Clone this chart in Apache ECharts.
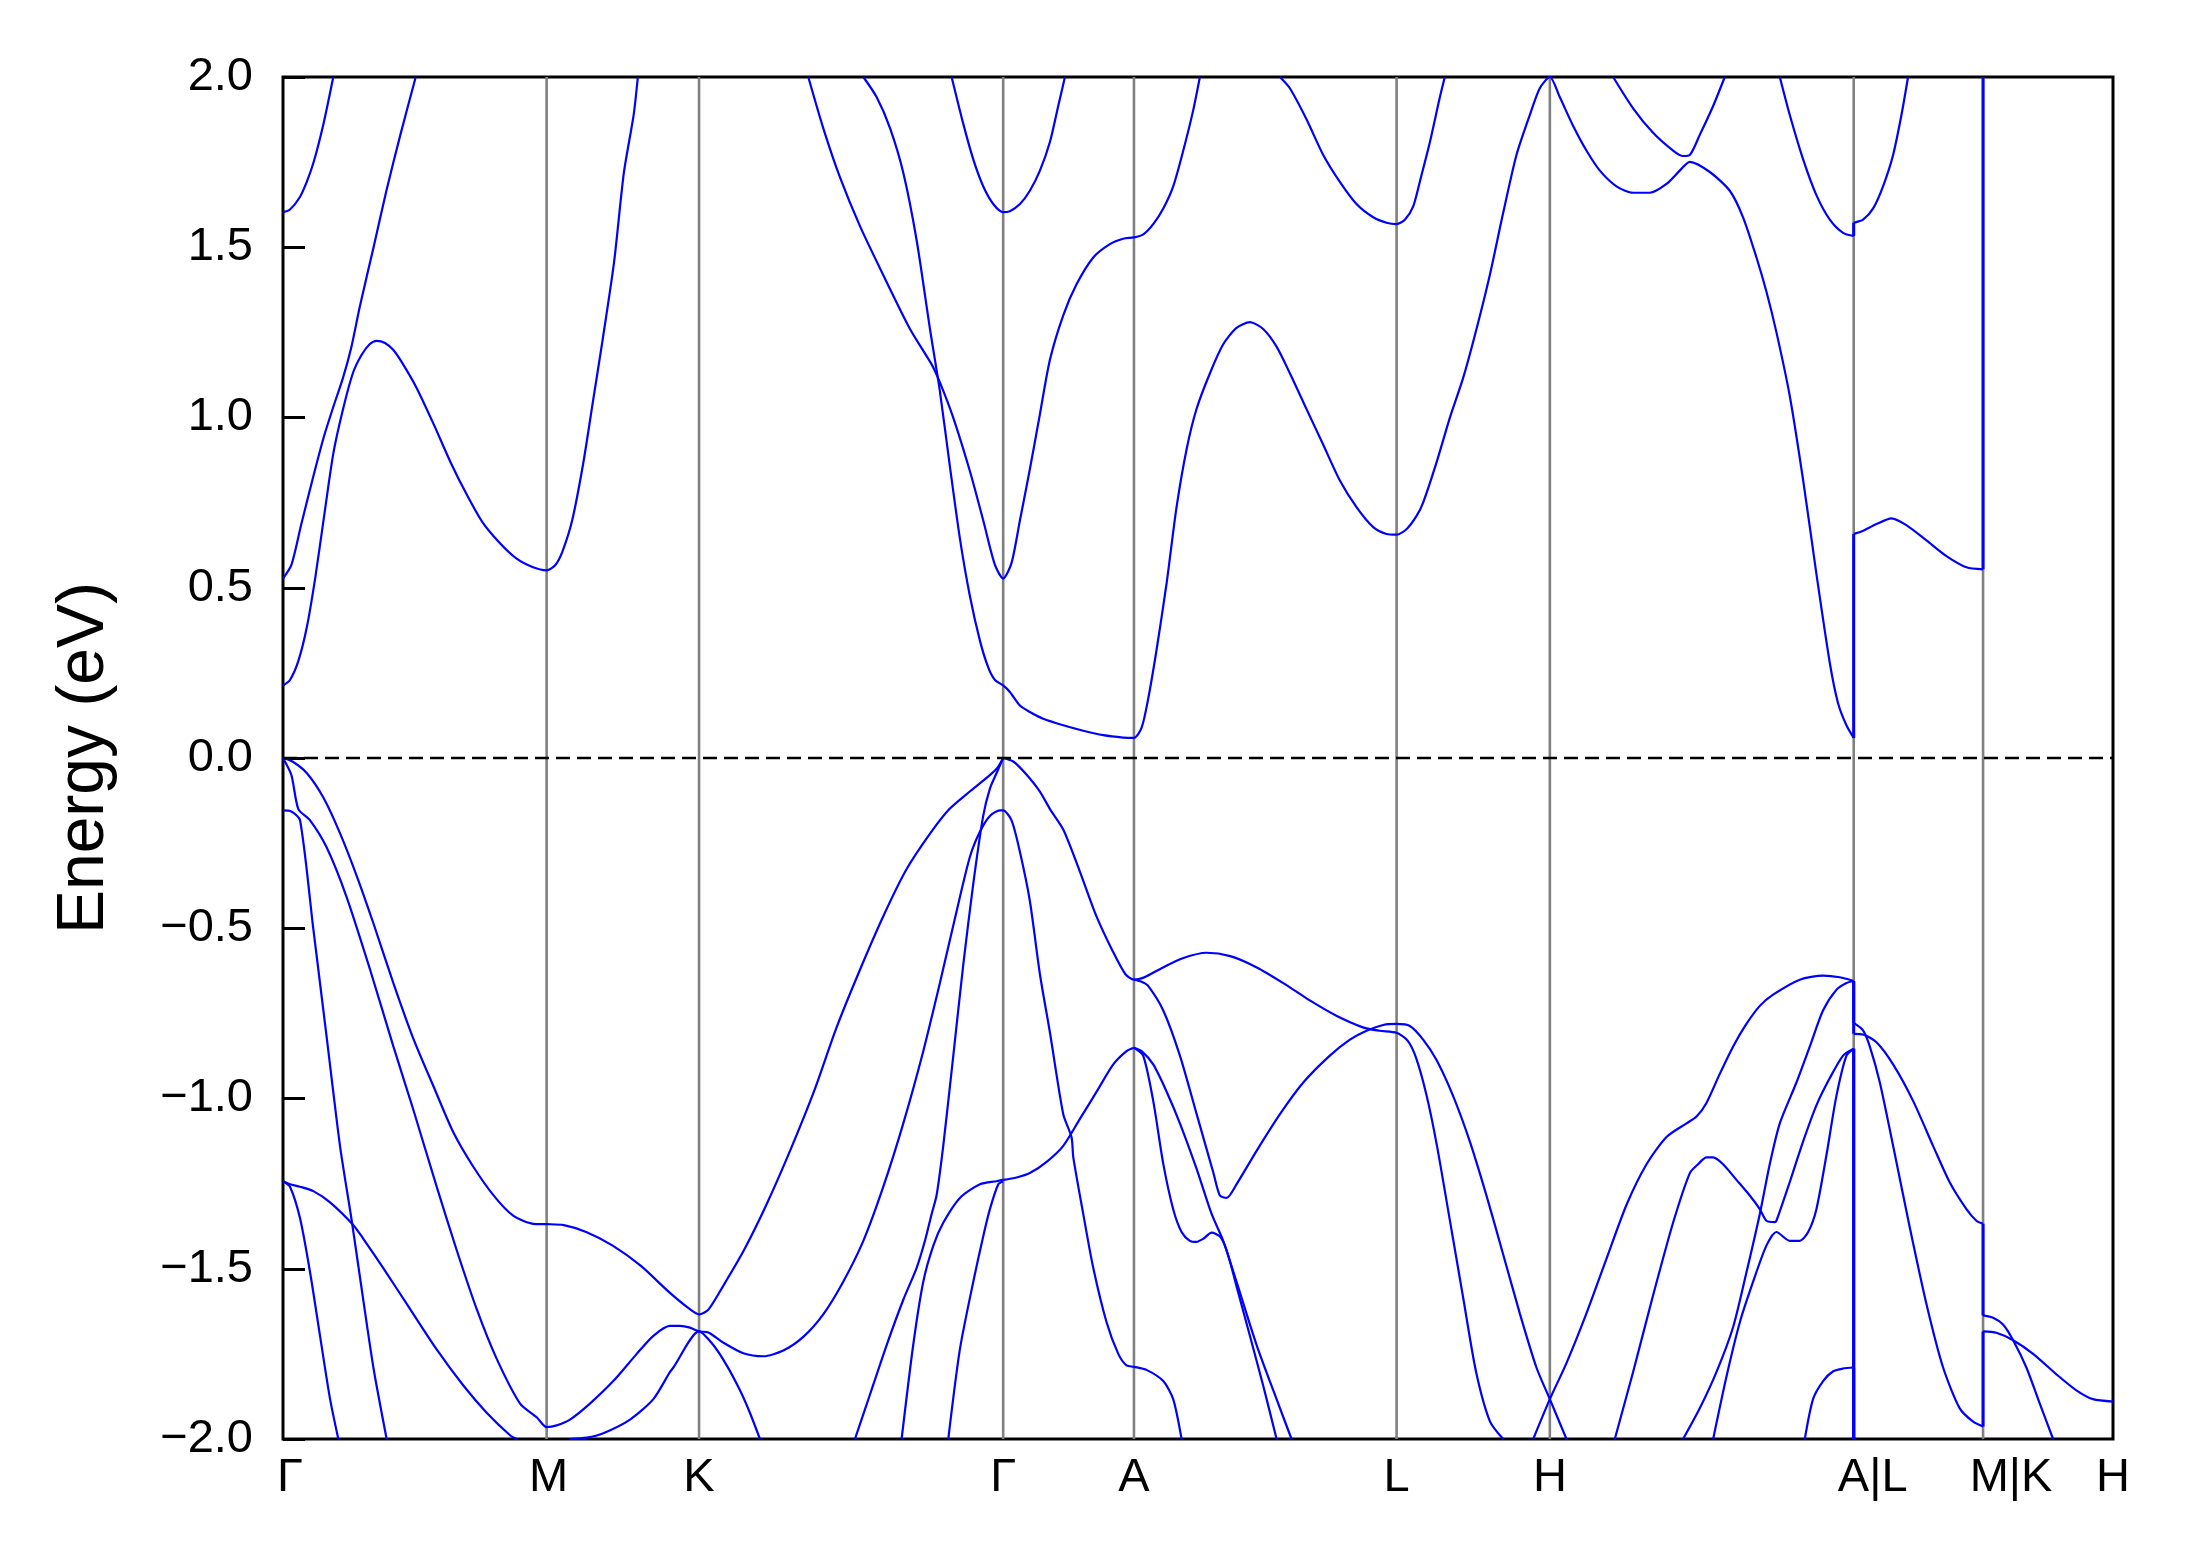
<!DOCTYPE html>
<html><head><meta charset="utf-8">
<script src="https://cdn.jsdelivr.net/npm/echarts@6/dist/echarts.min.js"></script>
<style>html,body{margin:0;padding:0;background:#fff}#c{width:2191px;height:1567px}</style>
</head><body><div id="c"></div>
<script>
// k-path positions (path distance units) and labels
const kPos = [0, 0.1887, 0.2978, 0.5155, 0.6091, 0.7971, 0.9068, 1.1243, 1.2169, 1.3099];
const kLabels = ['Γ','M','K','Γ','A','L','H','A|L','M|K','H'];
const yRange = [-2, 2];
const yStep = 0.5;

// bands: [k, energy(eV)]
const bandA = [[0,1.603],[0.005,1.611],[0.012,1.647],[0.017,1.692],[0.022,1.751],[0.029,1.863],[0.036,2.0]];
const bandB = [[0,0.527],[0.006,0.567],[0.013,0.685],[0.021,0.816],[0.029,0.940],[0.036,1.031],[0.043,1.117],[0.049,1.208],[0.055,1.326],[0.065,1.503],[0.074,1.666],[0.084,1.830],[0.095,2.0]];
const bandC = [[0,0.213],[0.005,0.229],[0.011,0.285],[0.017,0.383],[0.023,0.527],[0.029,0.698],[0.036,0.894],[0.043,1.025],[0.050,1.130],[0.056,1.182],[0.062,1.215],[0.067,1.225],[0.073,1.219],[0.079,1.198],[0.086,1.156],[0.096,1.084],[0.108,0.979],[0.120,0.868],[0.132,0.770],[0.143,0.691],[0.155,0.632],[0.167,0.586],[0.179,0.560],[0.1887,0.551],[0.195,0.567],[0.200,0.606],[0.207,0.698],[0.215,0.868],[0.222,1.051],[0.229,1.234],[0.237,1.457],[0.244,1.719],[0.251,1.889],[0.254,2.0]];
const bandD = [[0,0],[0.007,-0.011],[0.017,-0.044],[0.029,-0.117],[0.041,-0.223],[0.053,-0.349],[0.065,-0.489],[0.079,-0.661],[0.093,-0.821],[0.108,-0.967],[0.122,-1.100],[0.136,-1.199],[0.151,-1.286],[0.165,-1.345],[0.179,-1.368],[0.1887,-1.369],[0.201,-1.372],[0.217,-1.392],[0.236,-1.432],[0.256,-1.491],[0.277,-1.571],[0.291,-1.618],[0.2978,-1.634],[0.3045,-1.620],[0.315,-1.551],[0.330,-1.445],[0.346,-1.312],[0.363,-1.153],[0.380,-0.980],[0.396,-0.794],[0.413,-0.622],[0.430,-0.462],[0.446,-0.329],[0.463,-0.223],[0.477,-0.150],[0.492,-0.097],[0.504,-0.057],[0.511,-0.031],[0.5155,0]];
const bandG = [[0.5155,0],[0.523,-0.011],[0.532,-0.048],[0.542,-0.100],[0.549,-0.150],[0.5585,-0.210],[0.570,-0.329],[0.582,-0.462],[0.594,-0.568],[0.603,-0.635],[0.6091,-0.651],[0.616,-0.645],[0.630,-0.615],[0.644,-0.588],[0.661,-0.572],[0.678,-0.582],[0.697,-0.615],[0.716,-0.661],[0.735,-0.712],[0.754,-0.757],[0.773,-0.791],[0.785,-0.801],[0.7971,-0.807],[0.805,-0.830],[0.811,-0.880],[0.8185,-0.990],[0.826,-1.139],[0.835,-1.352],[0.845,-1.591],[0.854,-1.803],[0.864,-1.949],[0.8734,-2.0]];
const bandV = [[0.6091,-0.651],[0.6145,-0.657],[0.619,-0.668],[0.630,-0.741],[0.642,-0.874],[0.654,-1.046],[0.666,-1.219],[0.6706,-1.285],[0.6754,-1.292],[0.6825,-1.252],[0.697,-1.153],[0.7136,-1.046],[0.7303,-0.953],[0.7493,-0.874],[0.7637,-0.827],[0.7756,-0.801],[0.7875,-0.784],[0.7971,-0.781],[0.8066,-0.787],[0.8161,-0.827],[0.8257,-0.887],[0.8376,-0.993],[0.8495,-1.126],[0.8615,-1.286],[0.8734,-1.458],[0.8853,-1.631],[0.8972,-1.790],[0.9068,-1.883],[0.9187,-2.0]];
const band2 = [[0,0],[0.006,-0.050],[0.011,-0.150],[0.0194,-0.183],[0.0313,-0.263],[0.0456,-0.409],[0.0623,-0.621],[0.079,-0.847],[0.0933,-1.033],[0.110,-1.259],[0.1243,-1.445],[0.1386,-1.618],[0.1529,-1.764],[0.1697,-1.896],[0.1816,-1.936],[0.1887,-1.965],[0.1959,-1.960],[0.2054,-1.943],[0.2197,-1.896],[0.2364,-1.830],[0.2532,-1.750],[0.2651,-1.697],[0.277,-1.668],[0.2842,-1.668],[0.2913,-1.673],[0.2978,-1.684],[0.3045,-1.687],[0.3152,-1.717],[0.3295,-1.748],[0.3438,-1.757],[0.3581,-1.740],[0.3724,-1.700],[0.3867,-1.634],[0.401,-1.538],[0.4154,-1.418],[0.4297,-1.259],[0.444,-1.073],[0.4583,-0.861],[0.4702,-0.661],[0.4822,-0.449],[0.4917,-0.290],[0.4989,-0.216],[0.506,-0.170],[0.5132,-0.154],[0.5155,-0.154],[0.5215,-0.183],[0.5275,-0.276],[0.5346,-0.420],[0.5418,-0.635],[0.549,-0.807],[0.5585,-1.046],[0.5644,-1.113],[0.5657,-1.173],[0.5728,-1.339],[0.580,-1.498],[0.5895,-1.657],[0.5979,-1.750],[0.6038,-1.784],[0.6091,-1.788],[0.6181,-1.797],[0.6301,-1.830],[0.6372,-1.883],[0.6432,-2.0]];
const band7c = [[0.2054,-2.0],[0.2174,-1.996],[0.2293,-1.983],[0.2484,-1.943],[0.2651,-1.883],[0.277,-1.803],[0.2794,-1.790],[0.2978,-1.684],[0.308,-1.724],[0.3175,-1.783],[0.3271,-1.857],[0.3342,-1.923],[0.3414,-2.0]];
const band3 = [[0,-0.154],[0.006,-0.157],[0.0122,-0.183],[0.0217,-0.502],[0.0313,-0.821],[0.0408,-1.139],[0.0492,-1.359],[0.0551,-1.525],[0.0647,-1.790],[0.0742,-2.0]];
const band4 = [[0,-1.243],[0.005,-1.252],[0.0122,-1.259],[0.0217,-1.272],[0.0337,-1.305],[0.0504,-1.372],[0.0575,-1.412],[0.0718,-1.498],[0.0909,-1.618],[0.110,-1.737],[0.1291,-1.843],[0.1458,-1.923],[0.1625,-1.989],[0.1673,-2.0]];
const band5 = [[0,-1.243],[0.005,-1.259],[0.0122,-1.352],[0.0194,-1.511],[0.0265,-1.697],[0.0337,-1.883],[0.0396,-2.0]];
const bandF1 = [[0.4094,-2.0],[0.4201,-1.870],[0.4321,-1.724],[0.444,-1.591],[0.4535,-1.498],[0.4595,-1.418],[0.4643,-1.339],[0.4678,-1.285],[0.4726,-1.139],[0.4798,-0.874],[0.4869,-0.608],[0.4941,-0.369],[0.5012,-0.170],[0.506,-0.090],[0.5108,-0.044],[0.5155,0]];
const bandF2 = [[0.4428,-2.0],[0.4511,-1.724],[0.4583,-1.538],[0.4655,-1.432],[0.4726,-1.365],[0.4845,-1.292],[0.4989,-1.252],[0.5108,-1.243],[0.5155,-1.239]];
const bandF3 = [[0.4762,-2.0],[0.4845,-1.737],[0.4941,-1.538],[0.5012,-1.405],[0.506,-1.325],[0.512,-1.252],[0.5155,-1.243]];
const bandH = [[0.5155,-1.239],[0.5251,-1.232],[0.5346,-1.219],[0.5466,-1.186],[0.5585,-1.139],[0.5704,-1.060],[0.5824,-0.980],[0.5943,-0.900],[0.6038,-0.861],[0.6091,-0.851]];
const bandI1 = [[0.6091,-0.851],[0.6157,-0.874],[0.6229,-1.007],[0.6301,-1.192],[0.6372,-1.325],[0.6432,-1.392],[0.6491,-1.418],[0.6539,-1.421],[0.6587,-1.412],[0.6647,-1.394],[0.6706,-1.405],[0.6754,-1.445],[0.6825,-1.551],[0.6921,-1.697],[0.7016,-1.843],[0.7112,-2.0]];
const bandI2 = [[0.6091,-0.851],[0.6146,-0.861],[0.6229,-0.900],[0.6325,-0.980],[0.642,-1.073],[0.6539,-1.206],[0.6647,-1.339],[0.673,-1.418],[0.6825,-1.538],[0.6969,-1.724],[0.7112,-1.883],[0.7219,-2.0]];
const bandL = [[0.376,2.0],[0.3867,1.850],[0.3987,1.705],[0.413,1.562],[0.4297,1.418],[0.4488,1.260],[0.4643,1.156],[0.4702,1.103],[0.4798,0.999],[0.4917,0.842],[0.5012,0.698],[0.5096,0.567],[0.5155,0.527],[0.5215,0.573],[0.5275,0.698],[0.5346,0.848],[0.5418,1.010],[0.549,1.170],[0.5585,1.300],[0.568,1.391],[0.580,1.470],[0.5919,1.509],[0.6014,1.525],[0.6091,1.529],[0.6158,1.538],[0.6229,1.568],[0.6301,1.614],[0.6372,1.679],[0.6444,1.784],[0.6515,1.902],[0.6563,2.0]];
const bandM = [[0.4154,2.0],[0.4249,1.941],[0.4345,1.850],[0.444,1.719],[0.4535,1.522],[0.4631,1.260],[0.4702,1.077],[0.4774,0.855],[0.4845,0.645],[0.4917,0.475],[0.4989,0.344],[0.5048,0.266],[0.5096,0.229],[0.5155,0.213],[0.5203,0.194],[0.5275,0.154],[0.5346,0.135],[0.5442,0.115],[0.5585,0.096],[0.5728,0.080],[0.5871,0.067],[0.6014,0.060],[0.6091,0.059],[0.6146,0.089],[0.6193,0.174],[0.6253,0.318],[0.6325,0.514],[0.6396,0.737],[0.6468,0.907],[0.6539,1.025],[0.6635,1.130],[0.673,1.215],[0.6825,1.263],[0.6921,1.280],[0.7016,1.260],[0.7112,1.208],[0.7207,1.130],[0.7326,1.025],[0.7446,0.920],[0.7565,0.815],[0.7684,0.737],[0.7804,0.678],[0.7899,0.658],[0.7971,0.656],[0.8042,0.672],[0.8114,0.711],[0.8161,0.750],[0.8257,0.868],[0.8352,0.999],[0.8448,1.117],[0.8543,1.260],[0.8638,1.418],[0.8734,1.601],[0.8829,1.771],[0.8925,1.889],[0.8996,1.967],[0.9068,2.0],[0.9139,1.941],[0.9235,1.856],[0.933,1.784],[0.9426,1.725],[0.9545,1.679],[0.9664,1.660],[0.9784,1.660],[0.9903,1.686],[0.9998,1.725],[1.007,1.751],[1.0213,1.721],[1.0356,1.666],[1.0451,1.588],[1.0547,1.470],[1.0618,1.370],[1.069,1.250],[1.0785,1.064],[1.0881,0.816],[1.0976,0.541],[1.1072,0.279],[1.1131,0.161],[1.1191,0.096],[1.1243,0.059],[1.1243,0.658],[1.1298,0.665],[1.1406,0.687],[1.1513,0.704],[1.162,0.684],[1.1764,0.639],[1.1907,0.593],[1.205,0.560],[1.2169,0.554],[1.2169,2.0]];
const bandN = [[0.4786,2.0],[0.4869,1.863],[0.4941,1.758],[0.5012,1.679],[0.5084,1.627],[0.5155,1.603],[0.5203,1.606],[0.5275,1.627],[0.5346,1.666],[0.5418,1.725],[0.549,1.810],[0.5549,1.915],[0.5597,2.0]];
const bandR = [[0.7136,2.0],[0.7207,1.967],[0.7326,1.876],[0.7446,1.771],[0.7565,1.692],[0.7684,1.627],[0.7804,1.588],[0.7899,1.572],[0.7971,1.568],[0.803,1.581],[0.809,1.620],[0.8145,1.705],[0.821,1.810],[0.8281,1.941],[0.8316,2.0]];
const bandUp = [[0.9521,2.0],[0.9664,1.908],[0.9807,1.836],[0.995,1.784],[1.0022,1.768],[1.007,1.771],[1.0141,1.830],[1.0237,1.915],[1.032,2.0]];
const bandVt = [[1.0714,2.0],[1.0785,1.889],[1.0881,1.758],[1.0976,1.653],[1.1072,1.581],[1.1167,1.542],[1.1243,1.533],[1.1243,1.572],[1.131,1.581],[1.1382,1.614],[1.1453,1.679],[1.1525,1.771],[1.1585,1.889],[1.1632,2.0]];
const bandX = [[0.8949,-2.0],[0.9068,-1.883],[0.9187,-1.777],[0.933,-1.631],[0.9473,-1.471],[0.9617,-1.312],[0.976,-1.193],[0.9903,-1.113],[1.0046,-1.073],[1.0118,-1.053],[1.0189,-1.013],[1.0285,-0.927],[1.038,-0.847],[1.0475,-0.781],[1.0571,-0.728],[1.0666,-0.695],[1.0857,-0.651],[1.1024,-0.639],[1.1143,-0.644],[1.1243,-0.655],[1.1243,-0.778],[1.131,-0.800],[1.1358,-0.847],[1.143,-0.953],[1.1525,-1.139],[1.1644,-1.378],[1.1764,-1.604],[1.1883,-1.790],[1.2002,-1.910],[1.2098,-1.949],[1.2169,-1.963],[1.2169,-1.684],[1.2264,-1.688],[1.2384,-1.710],[1.2527,-1.750],[1.2694,-1.810],[1.2837,-1.857],[1.2956,-1.883],[1.3099,-1.890]];
const bandZ1 = [[1.0022,-2.0],[1.0141,-1.910],[1.0261,-1.803],[1.038,-1.671],[1.0475,-1.511],[1.0571,-1.339],[1.0642,-1.193],[1.0714,-1.073],[1.0833,-0.953],[1.0929,-0.847],[1.1024,-0.741],[1.1119,-0.681],[1.1191,-0.661],[1.1243,-0.655],[1.1243,-0.810],[1.131,-0.812],[1.1406,-0.835],[1.1525,-0.900],[1.1668,-1.007],[1.1811,-1.139],[1.193,-1.246],[1.205,-1.325],[1.2121,-1.359],[1.2169,-1.368],[1.2169,-1.637],[1.2241,-1.644],[1.2312,-1.664],[1.2384,-1.710],[1.2479,-1.790],[1.2575,-1.896],[1.267,-2.0]];
const bandY = [[0.9533,-2.0],[0.9664,-1.803],[0.9807,-1.578],[0.995,-1.365],[1.007,-1.219],[1.0129,-1.193],[1.0189,-1.173],[1.0237,-1.173],[1.0308,-1.193],[1.0404,-1.239],[1.0499,-1.285],[1.0571,-1.325],[1.0618,-1.359],[1.0678,-1.363],[1.069,-1.359],[1.0785,-1.246],[1.0881,-1.126],[1.0976,-1.020],[1.1072,-0.940],[1.1167,-0.874],[1.1243,-0.854],[1.1243,-2.0]];
const bandZ2 = [[1.0237,-2.0],[1.0332,-1.817],[1.0428,-1.657],[1.0523,-1.538],[1.0618,-1.432],[1.069,-1.392],[1.0785,-1.418],[1.0857,-1.418],[1.0917,-1.392],[1.0976,-1.325],[1.1048,-1.166],[1.1119,-0.993],[1.1191,-0.874],[1.1243,-0.854],[1.1243,-2.0]];
const bandBot = [[1.0893,-2.0],[1.0952,-1.883],[1.1024,-1.830],[1.1096,-1.801],[1.1167,-1.793],[1.1243,-1.790],[1.1243,-2.0]];

const bands = [bandA,bandB,bandC,bandD,bandG,bandV,band2,band7c,band3,band4,band5,bandF1,bandF2,bandF3,bandH,bandI1,bandI2,bandL,bandM,bandN,bandR,bandUp,bandVt,bandX,bandZ1,bandY,bandZ2,bandBot];

const FONT = '"Liberation Sans", Arial, Helvetica, sans-serif';
const BLUE = '#0000ff';
// horizontal nudges of the k-point labels (px), as in the original figure
const labelNudge = [7, 2, 0, 0, 0, 0, 0, 19, 28, 0];

// split each band at its vertical jumps (equal k) so curves can be smoothed
function splitBand(b) {
  const curves = [], jumps = [];
  let cur = [b[0]];
  for (let i = 1; i < b.length; i++) {
    if (b[i][0] === b[i - 1][0]) {
      curves.push(cur); jumps.push([b[i - 1], b[i]]); cur = [b[i]];
    } else cur.push(b[i]);
  }
  curves.push(cur);
  return {curves, jumps};
}

const series = [];
// gray vertical lines at the high-symmetry points
kPos.slice(1, -1).forEach(v => series.push({
  type: 'line', data: [[v, yRange[0]], [v, yRange[1]]], showSymbol: false, symbol: 'none',
  z: 1, silent: true, lineStyle: {color: '#808080', width: 2.6}
}));
bands.forEach(b => {
  const {curves, jumps} = splitBand(b);
  curves.forEach(c => series.push({
    type: 'line', data: c, showSymbol: false, symbol: 'none', smooth: 0.25,
    clip: true, z: 3, silent: true, lineStyle: {color: BLUE, width: 2.2}
  }));
  jumps.forEach(j => series.push({
    type: 'line', data: j, showSymbol: false, symbol: 'none', smooth: false,
    clip: true, z: 3, silent: true, lineStyle: {color: BLUE, width: 3}
  }));
});
// Fermi level
series.push({
  type: 'line', data: [[kPos[0], 0], [kPos[kPos.length - 1], 0]], showSymbol: false, symbol: 'none',
  z: 4, silent: true, lineStyle: {color: '#000000', width: 2.4, type: [14, 7]}
});

const rich = {};
labelNudge.forEach((n, i) => { rich['k' + i] = {padding: [0, 0, 0, 2 * n], fontSize: 47, fontFamily: FONT, color: '#000'}; });

const chart = echarts.init(document.getElementById('c'), null, {renderer: 'canvas'});
chart.setOption({
  animation: false,
  backgroundColor: '#ffffff',
  grid: {left: 283, top: 77, width: 1830, height: 1362, show: true, borderColor: '#000', borderWidth: 3, backgroundColor: 'rgba(0,0,0,0)'},
  xAxis: {
    type: 'value', min: kPos[0], max: kPos[kPos.length - 1],
    axisLine: {show: false}, axisTick: {show: false}, splitLine: {show: false},
    axisLabel: {
      customValues: kPos, showMinLabel: true, showMaxLabel: true, margin: 16,
      color: '#000', fontSize: 47, fontFamily: FONT, rich: rich,
      formatter: v => { const i = kPos.findIndex(p => Math.abs(p - v) < 1e-6); return i >= 0 ? '{k' + i + '|' + kLabels[i] + '}' : ''; }
    }
  },
  yAxis: {
    type: 'value', min: yRange[0], max: yRange[1], interval: yStep,
    name: 'Energy (eV)', nameLocation: 'middle', nameGap: 165,
    nameTextStyle: {color: '#000', fontSize: 66, fontFamily: FONT},
    axisLine: {show: false}, splitLine: {show: false},
    axisTick: {show: true, inside: true, length: 22, lineStyle: {color: '#000', width: 3}},
    axisLabel: {
      color: '#000', fontSize: 47, fontFamily: FONT, margin: 30,
      formatter: v => (v < 0 ? '\u2212' : '') + Math.abs(v).toFixed(1)
    }
  },
  series: series
});
</script></body></html>
